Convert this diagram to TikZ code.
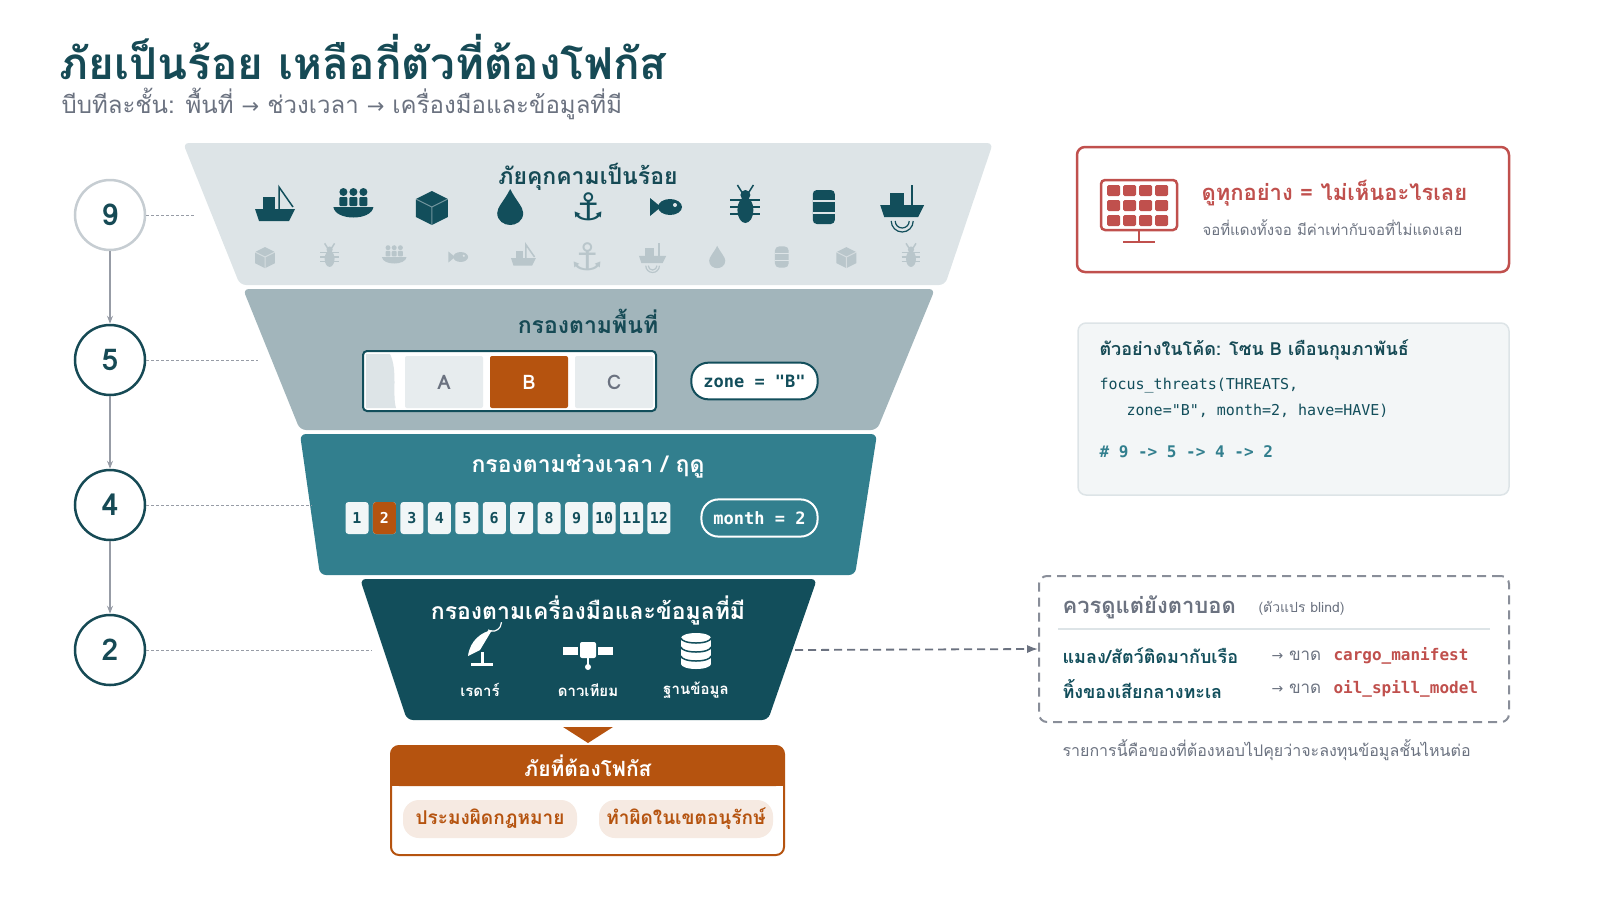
\documentclass[tikz,border=0pt]{standalone}
\usepackage{fontspec}
\setmainfont{Loma}[Script=Thai]
\setmonofont{DejaVu Sans Mono}
\newfontfamily\symf{DejaVu Sans}
\usepackage{xcolor}
\definecolor{ink}{HTML}{164A55}
\definecolor{layA}{HTML}{DDE4E7}
\definecolor{layB}{HTML}{A2B5BB}
\definecolor{layC}{HTML}{327F8E}
\definecolor{layD}{HTML}{124E5B}
\definecolor{rust}{HTML}{B5530F}
\definecolor{alert}{HTML}{C0504D}
\definecolor{mute}{HTML}{6B7280}
\definecolor{fade}{HTML}{B9C6CB}
\usetikzlibrary{arrows.meta, positioning, calc}
\newcommand{\fs}[1]{\fontsize{#1}{#1}\selectfont}

\tikzset{
    stepc/.style={circle, draw=ink, line width=2.5pt, fill=white, minimum size=70pt, font=\fs{30}\bfseries, text=ink},
    guide/.style={densely dashed, mute!70, line width=1pt},
    down/.style={-{Stealth[length=8pt]}, mute!70, line width=1.2pt},
    ltitle/.style={font=\fs{23}\bfseries},
    chip/.style={rounded corners=3pt, minimum width=23pt, minimum height=32pt, inner sep=0pt, font=\ttfamily\bfseries\fs{15}},
    pill/.style={rounded corners=17pt, line width=2pt, minimum height=35pt, inner sep=12pt, font=\ttfamily\bfseries\fs{17}},
    tag/.style={rounded corners=16pt, fill=rust!12, text=rust, minimum width=174pt, minimum height=38pt, font=\fs{19}\bfseries},
    pics/boat/.style={code={
        \fill (-20,2) -- (20,2) -- (14,14) -- (-16,14) -- cycle;
        \fill (-12,-10) rectangle (0,2);
        \draw[line width=1.5pt] (4,2) -- (4,-20) -- (18,0);}},
    pics/crew/.style={code={
        \fill (-20,0) -- (20,0) .. controls (18,14) and (-18,14) .. (-20,0);
        \foreach \px in {-10,0,10} {\fill (\px,-15) circle (4); \fill[rounded corners=1pt] (\px-4,-10) rectangle (\px+4,-1);}}},
    pics/crate/.style={code={
        \fill (0,-16) -- (16,-8) -- (16,10) -- (0,18) -- (-16,10) -- (-16,-8) -- cycle;
        \draw[white, opacity=.4, line width=1pt] (-16,-8) -- (0,0) -- (16,-8) (0,0) -- (0,18);}},
    pics/drop/.style={code={
        \fill (0,-18) .. controls (6,-6) and (13,0) .. (13,6) .. controls (13,14) and (6,18) .. (0,18)
              .. controls (-6,18) and (-13,14) .. (-13,6) .. controls (-13,0) and (-6,-6) .. (0,-18);}},
    pics/anchor/.style={code={\node[inner sep=0pt, font=\symf\fs{38}] {⚓};}},
    pics/fish/.style={code={
        \fill (3,0) ellipse (12 and 8);
        \fill (-6,0) -- (-17,-9) -- (-17,9) -- cycle;
        \fill[layA] (8,-2) circle (2);}},
    pics/bug/.style={code={
        \foreach \ly in {-4,3,10} \draw[line width=1.5pt] (-15,\ly-3) -- (15,\ly-3);
        \draw[line width=1.5pt] (-3,-14) -- (-8,-22) (3,-14) -- (8,-22);
        \fill (0,3) ellipse (8 and 13);
        \fill (0,-12) circle (5);}},
    pics/barrel/.style={code={
        \fill[rounded corners=4pt] (-11,-17) rectangle (11,17);
        \draw[layA, line width=1.5pt] (-11,-6) -- (11,-6) (-11,6) -- (11,6);}},
    pics/radarship/.style={code={
        \fill (-22,-2) -- (22,-2) -- (16,10) -- (-18,10) -- cycle;
        \fill (-12,-14) rectangle (2,-2);
        \draw[line width=2pt] (10,-2) -- (10,-22);
        \draw[line width=1.2pt] (-7,14) arc (180:0:7);
        \draw[line width=1.2pt] (-11,14) arc (180:0:11);}},
    pics/dish/.style={code={
        \draw[line width=3pt] (-11,16) -- (11,16) (0,16) -- (0,4);
        \fill (-14,8) .. controls (-12,-8) and (0,-16) .. (10,-18) -- (-2,2) -- cycle;
        \draw[line width=1.2pt] (6,-18) arc (120:0:9);}},
    pics/sat/.style={code={
        \fill (-25,-4) rectangle (-10,4);
        \fill (10,-4) rectangle (25,4);
        \fill[rounded corners=2pt] (-8,-9) rectangle (8,7);
        \draw[line width=1.5pt] (0,7) -- (0,15);
        \fill (0,16) circle (3);}},
    pics/dbase/.style={code={
        \fill (-15,-13) rectangle (15,13);
        \fill (0,-13) ellipse (15 and 5);
        \fill (0,13) ellipse (15 and 5);
        \draw[layD, line width=1.5pt] (-15,-4) arc (180:0:15 and 5) (-15,5) arc (180:0:15 and 5) (-15,-13) arc (180:0:15 and 5);}},
}

\begin{document}
\begin{tikzpicture}[x=1pt, y=-1pt]
\useasboundingbox (0,0) rectangle (1600,900);

% heading
\node[anchor=west, text=ink, font=\fs{44}\bfseries] (head) at (56,57) {ภัยเป็นร้อย เหลือกี่ตัวที่ต้องโฟกัส};
\node[anchor=west, text=mute, font=\fs{24}] (sub) at (58,104) {บีบทีละชั้น: พื้นที่ {\symf\fs{21}→} ช่วงเวลา {\symf\fs{21}→} เครื่องมือและข้อมูลที่มี};

% funnel layers
\fill[layA, rounded corners=6pt] (183,143) -- (993,143) -- (945,285) -- (240,285) -- cycle;
\fill[layB, rounded corners=6pt] (243,289) -- (935,289) -- (877,430) -- (300,430) -- cycle;
\fill[layC, rounded corners=6pt] (300,434) -- (877,434) -- (855,575) -- (320,575) -- cycle;
\fill[layD, rounded corners=6pt] (360,579) -- (817,579) -- (768,720) -- (407,720) -- cycle;
\coordinate (e9) at (196,215);
\coordinate (e5) at (258,360);
\coordinate (e4) at (312,505);
\coordinate (e2) at (372,650);
\coordinate (eOut) at (795,650);

% layer 1: all threats
\node[ltitle, text=ink] (t9) at (588,177) {ภัยคุกคามเป็นร้อย};
\foreach \ic [count=\i from 0] in {boat,crew,crate,drop,anchor,fish,bug,barrel,radarship}
    \pic[color=layD] at (275+78.4*\i,207) {\ic};
\foreach \ic [count=\i from 0] in {crate,bug,crew,fish,boat,anchor,radarship,drop,barrel,crate,bug}
    \pic[color=fade, scale=0.62] at (265+64.6*\i,257) {\ic};

% layer 2: zone
\node[ltitle, text=ink] (t5) at (588,321) {กรองตามพื้นที่};
\node[draw=layD, line width=2pt, fill=white, rounded corners=4pt, minimum width=293pt, minimum height=60pt] (zones) at (509.5,381) {};
\fill[layA] (366,354) -- (390,354) .. controls (398,370) and (392,395) .. (396,408) -- (366,408) -- cycle;
\node[fill=layA!70, rounded corners=2pt, minimum width=78pt, minimum height=52pt, text=mute, font=\fs{20}\bfseries] (zA) at (444,382) {A};
\node[fill=rust, rounded corners=2pt, minimum width=78pt, minimum height=52pt, text=white, font=\fs{20}\bfseries] (zB) at (529,382) {B};
\node[fill=layA!70, rounded corners=2pt, minimum width=78pt, minimum height=52pt, text=mute, font=\fs{20}\bfseries] (zC) at (614,382) {C};
\node[pill, draw=layD, fill=white, text=layD] (zq) at (754.5,381) {zone = "B"};

% layer 3: months
\node[ltitle, text=white] (t4) at (588,466) {กรองตามช่วงเวลา / ฤดู};
\foreach \m in {1,...,12}
    \node[chip, fill=white!93!layC, text=layD] (m\m) at (357+27.45*\m-27.45,518) {\m};
\node[chip, fill=rust, text=white] at (m2) {2};
\node[pill, draw=white, fill=layC, text=white] (mq) at (759.5,518) {month = 2};

% layer 4: tools
\node[ltitle, text=white] (t2) at (588,610) {กรองตามเครื่องมือและข้อมูลที่มี};
\pic[color=white] at (482,648) {dish};
\pic[color=white] at (588,651) {sat};
\pic[color=white] at (696,651) {dbase};
\node[text=white, font=\fs{15}\bfseries] (radar) at (480,690) {เรดาร์};
\node[text=white, font=\fs{15}\bfseries] (satl) at (588,690) {ดาวเทียม};
\node[text=white, font=\fs{15}\bfseries] (dbl) at (696,690) {ฐานข้อมูล};

% output
\fill[rust] (563,727) -- (613,727) -- (588,743) -- cycle;
\draw[rust, line width=2pt, fill=white, rounded corners=8pt] (391,746) rectangle (784,855);
\fill[rust, rounded corners=8pt] (391,746) rectangle (784,786);
\fill[rust] (391,776) rectangle (784,786);
\node[text=white, font=\fs{21}\bfseries] (focus) at (588,766) {ภัยที่ต้องโฟกัส};
\node[tag] (f1) at (490,819) {ประมงผิดกฎหมาย};
\node[tag] (f2) at (686,819) {ทำผิดในเขตอนุรักษ์};

% step circles
\node[stepc, draw=layA!80!mute] (s9) at (110,215) {9};
\node[stepc] (s5) at (110,360) {5};
\node[stepc] (s4) at (110,505) {4};
\node[stepc] (s2) at (110,650) {2};
\draw[down] (s9) -- (s5);
\draw[down] (s5) -- (s4);
\draw[down] (s4) -- (s2);
\draw[guide] (s9) -- (e9);
\draw[guide] (s5) -- (e5);
\draw[guide] (s4) -- (e4);
\draw[guide] (s2) -- (e2);

% warning card
\node[draw=alert, line width=2.5pt, rounded corners=8pt, minimum width=432pt, minimum height=125pt] (warn) at (1293,209.5) {};
\begin{scope}[shift={(1139,210)}, alert]
    \draw[line width=2.5pt, rounded corners=4pt] (-38,-30) rectangle (38,20);
    \foreach \gx in {0,...,3} \foreach \gy in {0,1,2}
        \fill[rounded corners=1.5pt] (-32+16*\gx,-25+15*\gy) rectangle (-19+16*\gx,-14+15*\gy);
    \draw[line width=2.5pt] (0,20) -- (0,32) (-16,32) -- (16,32);
\end{scope}
\node[anchor=west, text=alert, font=\fs{22}\bfseries] (wt) at (1198,193) {ดูทุกอย่าง = ไม่เห็นอะไรเลย};
\node[anchor=west, text=mute, font=\fs{15}] (ws) at (1199,228) {จอที่แดงทั้งจอ มีค่าเท่ากับจอที่ไม่แดงเลย};

% code card
\node[draw=layA, line width=1.5pt, fill=layA!35, rounded corners=8pt, minimum width=431pt, minimum height=172pt] (code) at (1293.5,409) {};
\node[anchor=west, text=ink, font=\fs{18}\bfseries] (ct) at (1096,350) {ตัวอย่างในโค้ด: โซน B เดือนกุมภาพันธ์};
\node[anchor=west, text=layD, font=\ttfamily\fs{15}] (c1) at (1096,386) {focus\_threats(THREATS,};
\node[anchor=west, text=layD, font=\ttfamily\fs{15}] (c2) at (1096,411) {\ \ \ zone="B", month=2, have=HAVE)};
\node[anchor=west, text=layC, font=\ttfamily\bfseries\fs{16}] (c3) at (1096,452) {\# 9 -> 5 -> 4 -> 2};

% blind card
\node[draw=mute!80, dashed, dash pattern=on 9pt off 6pt, line width=2pt, rounded corners=8pt, minimum width=470pt, minimum height=146pt] (blind) at (1274,649) {};
\draw[-{Latex[length=11pt]}, mute, line width=1.8pt, dash pattern=on 8pt off 5pt] (eOut) -- (blind.west);
\node[anchor=west, text=mute, font=\fs{22}\bfseries] (bt) at (1059,607) {ควรดูแต่ยังตาบอด};
\node[anchor=west, text=mute, font=\fs{14}] (bv) at (1255,608) {(ตัวแปร blind)};
\draw[layA, line width=1.5pt] (1058,629) -- (1490,629);
\node[anchor=west, text=layD, font=\fs{18}\bfseries] (r1) at (1059,656) {แมลง/สัตว์ติดมากับเรือ};
\node[anchor=west, text=layD, font=\fs{18}\bfseries] (r2) at (1059,689) {ทิ้งของเสียกลางทะเล};
\node[anchor=west, text=mute, font=\fs{17}] (a1) at (1268,656) {{\symf\fs{14}→} ขาด};
\node[anchor=west, text=mute, font=\fs{17}] (a2) at (1268,689) {{\symf\fs{14}→} ขาด};
\node[anchor=west, text=alert, font=\ttfamily\bfseries\fs{16}] (v1) at (1330,656) {cargo\_manifest};
\node[anchor=west, text=alert, font=\ttfamily\bfseries\fs{16}] (v2) at (1330,689) {oil\_spill\_model};
\node[anchor=west, text=mute, font=\fs{16}] (note) at (1059,750) {รายการนี้คือของที่ต้องหอบไปคุยว่าจะลงทุนข้อมูลชั้นไหนต่อ};
\end{tikzpicture}
\end{document}
